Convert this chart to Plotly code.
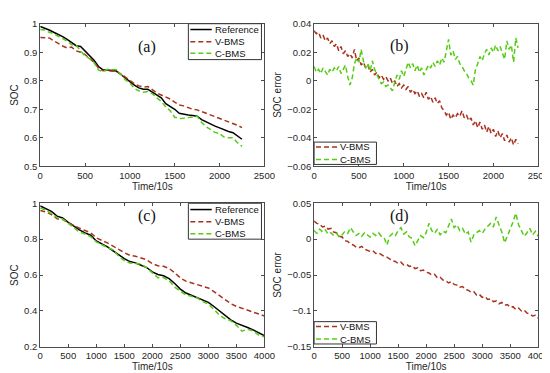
import plotly.graph_objects as go

# ---------------- data ----------------
t_a = list(range(0, 2251, 50))
ref_a = [0.990, 0.985, 0.978, 0.970, 0.963, 0.955, 0.945, 0.935, 0.923, 0.920,
         0.905, 0.890, 0.872, 0.850, 0.838, 0.838, 0.836, 0.834, 0.822, 0.808,
         0.797, 0.785, 0.775, 0.770, 0.770, 0.760, 0.750, 0.740, 0.720, 0.710,
         0.700, 0.686, 0.682, 0.680, 0.678, 0.676, 0.664, 0.656, 0.648, 0.641,
         0.635, 0.628, 0.622, 0.618, 0.605, 0.595]
vbms_a = [0.952, 0.952, 0.950, 0.940, 0.930, 0.922, 0.915, 0.918, 0.905, 0.900,
          0.892, 0.880, 0.865, 0.845, 0.835, 0.836, 0.834, 0.832, 0.824, 0.812,
          0.800, 0.790, 0.782, 0.778, 0.780, 0.768, 0.757, 0.750, 0.742, 0.736,
          0.725, 0.715, 0.712, 0.706, 0.700, 0.698, 0.692, 0.686, 0.680, 0.674,
          0.668, 0.662, 0.656, 0.652, 0.644, 0.636]
cbms_a = [0.980, 0.978, 0.970, 0.965, 0.956, 0.947, 0.939, 0.926, 0.925, 0.905,
          0.887, 0.878, 0.864, 0.837, 0.833, 0.840, 0.840, 0.839, 0.822, 0.803,
          0.792, 0.773, 0.765, 0.760, 0.762, 0.755, 0.740, 0.728, 0.708, 0.695,
          0.672, 0.668, 0.669, 0.670, 0.673, 0.676, 0.654, 0.639, 0.628, 0.619,
          0.615, 0.603, 0.600, 0.600, 0.583, 0.570]

t_b = list(range(0, 2276, 25))
verr_b = [0.035, 0.033, 0.034, 0.030, 0.032, 0.028, 0.030, 0.026, 0.028, 0.024,
          0.026, 0.021, 0.024, 0.019, 0.021, 0.017, 0.019, 0.016, 0.022, 0.014,
          0.016, 0.011, 0.013, 0.009, 0.011, 0.006, 0.008, 0.004, 0.006, 0.002,
          0.004, 0.001, 0.003, 0.000, 0.002, -0.002, 0.000, -0.004, -0.002, -0.005,
          -0.003, -0.006, -0.004, -0.008, -0.006, -0.009, -0.007, -0.011, -0.009, -0.012,
          -0.008, -0.013, -0.011, -0.015, -0.012, -0.016, -0.014, -0.019, -0.021, -0.024,
          -0.022, -0.027, -0.024, -0.026, -0.023, -0.025, -0.021, -0.026, -0.024, -0.028,
          -0.026, -0.031, -0.028, -0.033, -0.029, -0.034, -0.031, -0.036, -0.032, -0.037,
          -0.034, -0.039, -0.035, -0.040, -0.037, -0.042, -0.038, -0.043, -0.040, -0.045,
          -0.041, -0.044]
cerr_b = [0.010, 0.006, 0.008, 0.005, 0.009, 0.006, 0.004, 0.008, 0.006, 0.009,
          0.007, 0.010, 0.005, 0.008, 0.011, 0.003, -0.003, 0.002, 0.012, 0.016,
          0.013, 0.022, 0.014, 0.009, 0.012, 0.007, 0.014, 0.008, 0.004, 0.001,
          -0.002, -0.001, -0.004, -0.003, -0.005, -0.007, -0.001, 0.004, 0.001, 0.007,
          0.003, 0.008, 0.013, 0.009, 0.012, 0.007, 0.011, 0.006, 0.009, 0.004,
          0.007, 0.011, 0.009, 0.013, 0.010, 0.014, 0.011, 0.016, 0.013, 0.020,
          0.029, 0.018, 0.021, 0.015, 0.017, 0.012, 0.010, 0.007, 0.005, 0.002,
          0.000, -0.003, 0.008, 0.012, 0.017, 0.014, 0.019, 0.022, 0.018, 0.023,
          0.020, 0.025, 0.021, 0.024, 0.020, 0.015, 0.028, 0.022, 0.025, 0.013,
          0.030, 0.023]

t_c = list(range(0, 4001, 100))
ref_c = [0.985, 0.972, 0.955, 0.928, 0.918, 0.893, 0.872, 0.852, 0.835, 0.822,
         0.790, 0.775, 0.757, 0.735, 0.712, 0.692, 0.675, 0.668, 0.655, 0.642,
         0.618, 0.603, 0.596, 0.580, 0.553, 0.522, 0.500, 0.488, 0.475, 0.460,
         0.448, 0.425, 0.400, 0.372, 0.350, 0.332, 0.318, 0.308, 0.295, 0.278,
         0.262]
vbms_c = [0.960, 0.952, 0.937, 0.914, 0.910, 0.891, 0.876, 0.861, 0.847, 0.836,
          0.807, 0.794, 0.779, 0.761, 0.742, 0.725, 0.710, 0.705, 0.695, 0.685,
          0.664, 0.652, 0.649, 0.637, 0.613, 0.584, 0.566, 0.557, 0.548, 0.537,
          0.528, 0.508, 0.486, 0.461, 0.441, 0.426, 0.415, 0.407, 0.397, 0.384,
          0.372]
cbms_c = [0.973, 0.962, 0.942, 0.920, 0.912, 0.889, 0.862, 0.840, 0.829, 0.814,
          0.785, 0.768, 0.753, 0.740, 0.706, 0.680, 0.667, 0.664, 0.661, 0.640,
          0.610, 0.585, 0.586, 0.568, 0.533, 0.508, 0.488, 0.482, 0.473, 0.452,
          0.438, 0.409, 0.376, 0.357, 0.346, 0.320, 0.288, 0.298, 0.289, 0.266,
          0.256]

t_d = list(range(0, 4001, 50))
verr_d = [0.025, 0.022, 0.021, 0.017, 0.018, 0.014, 0.015, 0.010, 0.009, 0.004,
          0.003, -0.002, -0.003, -0.007, -0.008, -0.011, -0.012, -0.010, -0.014, -0.015,
          -0.017, -0.016, -0.020, -0.019, -0.022, -0.024, -0.025, -0.028, -0.030, -0.031,
          -0.034, -0.032, -0.036, -0.035, -0.038, -0.037, -0.041, -0.040, -0.044, -0.043,
          -0.046, -0.047, -0.050, -0.049, -0.054, -0.053, -0.057, -0.058, -0.061, -0.059,
          -0.063, -0.064, -0.067, -0.066, -0.070, -0.071, -0.074, -0.073, -0.078, -0.077,
          -0.081, -0.080, -0.084, -0.083, -0.087, -0.086, -0.090, -0.088, -0.092, -0.091,
          -0.095, -0.094, -0.098, -0.096, -0.100, -0.099, -0.103, -0.104, -0.107, -0.106,
          -0.110]
cerr_d = [0.012, 0.008, 0.014, 0.010, 0.013, 0.007, 0.009, 0.005, 0.008, 0.003,
          0.006, 0.011, 0.008, 0.016, 0.010, 0.005, 0.008, 0.004, 0.009, 0.006,
          0.003, 0.008, 0.005, 0.009, 0.004, 0.002, -0.008, 0.004, 0.008, 0.005,
          0.012, 0.016, 0.007, 0.010, 0.003, 0.001, -0.009, -0.002, 0.005, 0.002,
          0.009, 0.022, 0.012, 0.008, 0.014, 0.006, 0.011, 0.009, 0.018, 0.028,
          0.016, 0.020, 0.012, 0.015, 0.007, 0.010, -0.004, 0.006, 0.009, 0.012,
          0.008, 0.014, 0.018, 0.022, 0.017, 0.031, 0.020, 0.010, -0.005, 0.006,
          0.014, 0.024, 0.036, 0.020, 0.012, 0.004, 0.009, 0.015, 0.006, 0.011,
          0.004]

panel_labels = ["(a)", "(b)", "(c)", "(d)"]

# ---------------- styles ----------------
C_REF = "#000000"
C_V = "#a8321e"
C_C = "#55cc14"
DASH = "5px,3px"
FONT = "Liberation Sans, Arial, sans-serif"
W, H = 550, 373

fig = go.Figure()

def add(x, y, name, color, dash, xa, ya):
    fig.add_trace(go.Scatter(
        x=x, y=y, name=name, mode="lines", showlegend=False,
        line=dict(color=color, width=1.5, dash=dash),
        xaxis=xa, yaxis=ya))

add(t_a, ref_a, "Reference", C_REF, "solid", "x", "y")
add(t_a, vbms_a, "V-BMS", C_V, DASH, "x", "y")
add(t_a, cbms_a, "C-BMS", C_C, DASH, "x", "y")
add(t_b, verr_b, "V-BMS", C_V, DASH, "x2", "y2")
add(t_b, cerr_b, "C-BMS", C_C, DASH, "x2", "y2")
add(t_c, ref_c, "Reference", C_REF, "solid", "x3", "y3")
add(t_c, vbms_c, "V-BMS", C_V, DASH, "x3", "y3")
add(t_c, cbms_c, "C-BMS", C_C, DASH, "x3", "y3")
add(t_d, verr_d, "V-BMS", C_V, DASH, "x4", "y4")
add(t_d, cerr_d, "C-BMS", C_C, DASH, "x4", "y4")

def px_x(a, b):
    return [a / W, b / W]

def px_y(top, bottom):
    return [1 - bottom / H, 1 - top / H]

dx_left = px_x(30, 260)
dx_right = px_x(311, 541)
dy_top = px_y(10, 157)
dy_bot = px_y(195, 343)

axis_common = dict(showline=True, linecolor="#4d4d4d", linewidth=1, mirror="ticks",
                   ticks="inside", ticklen=3, tickcolor="#4d4d4d", showgrid=False,
                   zeroline=False, tickfont=dict(family=FONT, size=9.5, color="#262626"),
                   title_font=dict(family=FONT, size=10, color="#262626"))

def xax(domain, anchor, rng, dtick):
    d = dict(axis_common)
    d.update(domain=domain, anchor=anchor, range=rng, dtick=dtick,
             title=dict(text="Time/10s", standoff=2))
    return d

def yax(domain, anchor, rng, dtick, title):
    d = dict(axis_common)
    d.update(domain=domain, anchor=anchor, range=rng, dtick=dtick,
             title=dict(text=title, standoff=3))
    return d

fig.update_layout(
    width=W, height=H, margin=dict(l=0, r=0, t=0, b=0),
    paper_bgcolor="white", plot_bgcolor="white", showlegend=False,
    xaxis=xax(dx_left, "y", [0, 2500], 500),
    yaxis=yax(dy_top, "x", [0.5, 1.0], 0.1, "SOC"),
    xaxis2=xax(dx_right, "y2", [0, 2500], 500),
    yaxis2=yax(dy_top, "x2", [-0.06, 0.04], 0.02, "SOC error"),
    xaxis3=xax(dx_left, "y3", [0, 4000], 500),
    yaxis3=yax(dy_bot, "x3", [0.2, 1.0], 0.2, "SOC"),
    xaxis4=xax(dx_right, "y4", [0, 4000], 500),
    yaxis4=yax(dy_bot, "x4", [-0.15, 0.05], 0.05, "SOC error"),
)

# panel labels
for txt, px, py in zip(panel_labels, [128, 410, 128, 410], [23, 22, 208, 208]):
    fig.add_annotation(text=txt, x=px / W, y=1 - py / H, xref="paper", yref="paper",
                       showarrow=False, font=dict(family="Liberation Serif, Times New Roman, serif",
                                                  size=16, color="#111111"))

# compact MATLAB-style legends (box, line samples, labels)
def legend_box(x0, x1, y0, y1, entries, row_ys):
    fig.add_shape(type="rect", xref="paper", yref="paper",
                  x0=x0 / W, x1=x1 / W, y0=1 - y1 / H, y1=1 - y0 / H,
                  line=dict(color="#333333", width=1), fillcolor="white", layer="above")
    for (name, color, dash), ry in zip(entries, row_ys):
        fig.add_shape(type="line", xref="paper", yref="paper",
                      x0=(x0 + 2) / W, x1=(x0 + 24) / W, y0=1 - ry / H, y1=1 - ry / H,
                      line=dict(color=color, width=1.5, dash=dash), layer="above")
        fig.add_annotation(text=name, x=(x0 + 25) / W, y=1 - ry / H, xref="paper", yref="paper",
                           xanchor="left", yanchor="middle", showarrow=False,
                           font=dict(family=FONT, size=9.5, color="#111111"))

ent3 = [("Reference", C_REF, "solid"), ("V-BMS", C_V, DASH), ("C-BMS", C_C, DASH)]
ent2 = [("V-BMS", C_V, DASH), ("C-BMS", C_C, DASH)]
legend_box(182, 257, 10, 47, ent3, [16, 28.5, 40.5])
legend_box(311, 375, 132, 155, ent2, [137, 150])
legend_box(182, 257, 195, 232, ent3, [201.5, 214, 226.5])
legend_box(311, 375, 317, 340, ent2, [322, 335])

fig.write_html("out.html")
